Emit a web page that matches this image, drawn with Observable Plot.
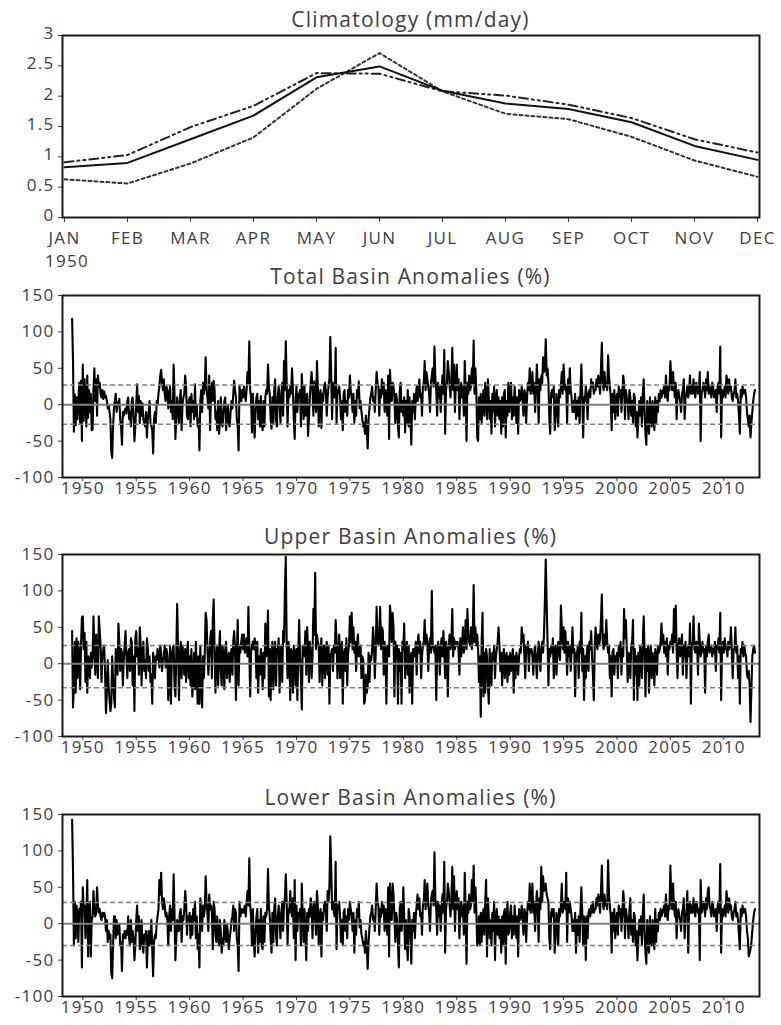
<!DOCTYPE html>
<html>
<head>
<meta charset="utf-8">
<script src="https://cdn.jsdelivr.net/npm/d3@7"></script>
<script src="https://cdn.jsdelivr.net/npm/@observablehq/plot@0.6"></script>
<style>
  html, body { margin: 0; padding: 0; background: #fff; overflow: hidden; }
  #root { position: relative; width: 781px; height: 1025px; font-family: "Open Sans", sans-serif; color: #404040; }
  .panel { position: absolute; left: 0; }
  .title { position: absolute; left: 62px; width: 697px; text-align: center; font-size: 21px; line-height: 21px; letter-spacing: 1.2px; white-space: nowrap; }
  .note { position: absolute; font-size: 17px; line-height: 17px; letter-spacing: 1.3px; }
</style>
</head>
<body>
<div id="root"></div>
<script>
// ---------- Climatology (mm/day) ----------
const months = ["JAN","FEB","MAR","APR","MAY","JUN","JUL","AUG","SEP","OCT","NOV","DEC"];
const climSolid   = [0.83, 0.90, 1.29, 1.68, 2.31, 2.49, 2.09, 1.88, 1.79, 1.57, 1.18, 0.95];
const climDashDot = [0.91, 1.03, 1.49, 1.84, 2.38, 2.37, 2.08, 2.01, 1.86, 1.64, 1.29, 1.07];
const climDotted  = [0.63, 0.56, 0.89, 1.32, 2.12, 2.71, 2.08, 1.71, 1.62, 1.33, 0.94, 0.67];
const climTicks = [0, 0.5, 1, 1.5, 2, 2.5, 3];

// ---------- Anomaly series (%), monthly, Jan 1949 - Dec 2012 ----------
const startYear = 1949;
const yearTicks = [1950, 1955, 1960, 1965, 1970, 1975, 1980, 1985, 1990, 1995, 2000, 2005, 2010];
const anomTicks = [-100, -50, 0, 50, 100, 150];

const totalThresholds = [27, -27];
const upperThresholds = [25, -33];
const lowerThresholds = [29, -30];

const totalAnom = [
118,60,-37,14,-28,10,-20,5,30,-25,33,-50,
55,-22,35,8,-30,40,-18,20,-10,15,-35,-34,
22,50,5,35,-15,40,25,30,15,10,20,8,
18,10,12,5,-5,0,-10,-20,-65,-73,-30,-5,
5,15,-10,3,0,8,-20,-30,-55,-10,-15,-8,
-5,-12,5,10,-20,-10,-30,5,10,-15,-50,-30,
0,28,-10,12,-25,5,-15,2,-20,-25,-30,-10,
-45,-20,-10,5,-25,-30,-35,-67,-20,-10,-25,5,
0,15,25,40,48,30,20,35,15,5,25,20,
-5,10,25,-10,5,-20,55,15,-47,-20,10,-5,
-25,5,20,-35,0,10,15,40,25,-15,-20,5,
10,-30,15,-10,5,-20,28,-15,0,-30,-20,-63,
5,20,-10,30,15,25,65,20,10,-5,40,-35,
15,30,5,33,20,-20,-10,-35,5,-40,-25,10,
-20,-30,-10,5,10,-35,-15,0,-25,-30,-10,5,
-5,15,33,20,10,-20,-30,-63,25,15,5,20,
10,25,15,5,20,45,30,87,20,10,-38,15,
-15,-45,-10,10,15,-20,5,-30,12,-25,-35,5,
-30,10,20,15,55,25,15,-20,-33,10,-25,20,
35,-20,-30,10,25,5,-25,15,30,-15,60,20,
87,30,-30,20,10,25,15,50,20,-20,-47,5,
25,-10,15,10,20,-30,42,10,-20,25,-15,10,
15,-43,-20,10,30,45,20,-15,32,10,-10,60,
25,-30,10,20,-32,15,5,25,30,20,-15,10,
25,35,93,40,-20,30,20,10,78,-25,15,20,
25,10,-20,5,-35,15,20,-10,5,-15,20,10,
40,20,10,-10,15,-25,5,-15,20,10,32,-5,
5,-10,-20,-30,-25,-40,-15,-35,-60,-20,-5,10,
15,25,5,10,-10,20,45,30,25,-15,20,10,
35,15,30,-10,20,5,-15,40,-47,48,20,5,
30,25,10,-25,15,5,-30,-45,20,30,-10,5,
-15,10,-38,5,-25,20,-30,10,-20,-55,5,-10,
15,-20,10,25,5,20,35,10,15,-15,25,30,
60,20,45,35,25,15,-10,30,40,50,25,80,
35,20,-15,30,10,25,-10,20,40,15,75,-40,
20,30,60,45,25,10,35,78,20,55,-10,30,
55,20,35,-20,15,30,10,25,-15,60,20,-50,
30,15,40,20,25,50,30,88,15,50,20,-45,
-50,10,-20,15,-25,5,20,-15,30,10,-20,35,
10,-20,5,-40,15,-10,25,-30,5,20,-15,10,
-20,5,-40,10,-30,15,20,-45,5,-15,30,-10,
15,30,-20,10,-15,25,5,-25,10,-40,20,5,
10,25,5,-15,20,15,-25,10,30,20,50,15,
25,45,15,30,-10,20,55,25,-25,35,20,40,
30,65,45,50,90,40,50,30,-20,-40,15,20,
10,25,-35,-20,15,5,-30,20,10,25,45,15,
55,30,20,25,-25,35,15,50,20,10,-10,5,
-10,15,-20,5,-15,10,-25,20,55,15,-45,10,
5,25,10,-20,15,20,10,35,25,30,15,20,
20,35,25,40,30,15,50,85,30,20,45,25,
30,20,68,40,25,10,-35,15,-10,20,-20,5,
15,-15,25,10,20,-10,15,40,30,-20,20,10,
5,-20,20,10,-15,5,-25,15,10,-30,-10,-45,
-20,5,-15,10,-30,15,35,-10,-40,-55,5,-25,
-40,10,-20,-30,5,-15,-35,10,-25,5,-10,15,
5,20,10,15,20,25,10,40,15,5,25,20,
60,35,20,45,25,10,30,-20,15,20,10,5,
-10,15,20,35,-20,10,15,25,10,20,40,15,
25,15,35,20,10,30,25,15,20,45,-50,15,
20,30,25,10,35,20,45,15,25,20,10,30,
25,10,15,20,-10,25,30,15,80,-45,20,10,
15,25,10,40,30,15,35,20,25,10,5,15,
20,35,10,15,5,-15,-40,20,10,25,15,20,
20,10,-10,-20,-30,-15,-45,-25,-10,5,15,20
];

const upperAnom = [
45,-60,-30,30,-40,35,-20,30,10,-35,25,63,
65,20,42,-25,30,-40,10,5,-20,15,-5,10,
65,20,-15,40,10,-20,65,45,25,-25,10,20,
25,-10,-68,-40,5,-30,-50,-65,-55,10,-20,-45,
-60,20,10,-15,55,30,-10,20,15,-30,5,25,
45,10,-20,15,20,-10,35,30,-30,10,-65,35,
45,10,20,-15,50,25,-30,15,30,-10,5,-20,
35,20,-10,10,-25,-15,-55,15,5,-20,10,5,
20,10,-5,25,15,-10,5,10,25,-5,20,10,
-50,-20,25,-55,10,20,25,-30,-45,15,82,20,
-50,10,30,-20,25,10,-15,20,-25,15,30,-20,
10,-30,20,-45,-20,15,-35,30,-10,-55,10,-55,
25,-30,-60,10,-20,15,70,60,20,-15,10,30,
45,-20,60,88,20,-40,10,25,-30,15,45,-10,
-30,25,10,-35,20,30,-20,5,15,-25,10,20,
-15,30,45,20,-50,10,60,-30,25,15,30,40,
20,40,15,25,35,10,78,20,-45,15,25,30,
20,35,25,-20,30,-40,10,-15,20,5,-35,15,
-20,55,10,25,73,-45,20,-50,15,30,-35,10,
30,-30,20,15,35,-40,10,25,-25,45,30,100,
147,25,-20,30,10,-50,20,15,-40,25,10,-30,
20,-50,15,60,10,-20,-63,25,15,10,45,-15,
50,20,-25,30,15,-20,10,75,40,125,20,40,
30,25,-25,20,35,-30,15,25,-20,10,30,-15,
25,-55,10,15,20,-10,25,15,60,35,-20,10,
40,-20,15,30,-55,10,20,-10,35,-30,15,25,
65,30,70,20,50,15,30,-10,25,40,10,20,
25,-20,10,5,-55,-50,-15,-40,-30,15,-25,10,
5,20,50,30,-20,15,78,40,25,35,78,20,
50,45,-15,30,15,-55,25,20,10,80,65,30,
70,50,-45,30,10,25,-55,20,-10,15,-55,30,
20,55,-20,10,30,-15,25,-40,10,15,-55,20,
20,10,30,-15,25,40,15,30,-20,10,25,30,
60,25,40,30,-10,20,35,15,100,25,20,15,
25,-50,10,30,20,-15,25,35,10,45,20,-20,
30,15,-45,25,40,20,30,75,10,35,20,30,
25,30,20,-15,35,10,25,50,15,30,60,20,
75,40,30,25,50,20,35,108,30,50,25,40,
20,-25,10,-73,30,70,-45,15,-40,20,10,-30,
-55,20,-10,-30,15,5,25,-20,10,20,30,50,
25,-10,15,-30,10,20,-20,5,15,-25,10,-15,
15,-10,5,20,-40,10,-20,15,5,-15,10,20,
15,50,30,40,10,-20,25,15,30,-10,20,15,
20,10,-15,15,25,5,-20,10,30,15,-10,20,
30,15,40,85,143,85,30,-30,20,10,25,15,
35,-20,15,25,-15,10,30,20,5,80,50,20,
50,15,45,20,-15,30,10,25,-10,20,50,15,
20,-45,15,10,25,-20,30,15,70,-10,20,-50,
10,-20,15,25,-10,30,20,45,10,-15,-50,25,
50,30,20,40,25,35,60,95,30,20,40,25,
60,30,15,25,-20,10,-45,15,20,-15,10,5,
15,-20,25,10,30,-15,20,10,75,35,60,20,
-25,15,10,-20,25,30,60,-50,20,-15,10,-50,
15,-30,25,10,-20,30,65,15,-45,20,-10,25,
-40,10,25,-20,15,5,-30,20,10,-15,25,15,
20,30,55,25,40,15,30,10,35,-15,25,20,
30,25,40,15,75,30,80,20,-20,25,35,10,
20,40,-15,25,10,30,-20,15,25,10,55,-55,
25,30,65,20,15,30,25,-15,55,30,10,20,
30,15,20,-40,25,10,30,40,15,20,25,10,
20,15,30,-10,25,20,35,15,70,-50,20,30,
15,35,20,25,10,30,20,25,50,15,-20,20,
20,50,15,25,-20,10,-55,20,15,30,10,25,
15,10,-15,-20,-10,-30,-80,-35,10,20,25,15
];

const lowerAnom = [
143,73,-30,30,-20,25,10,-25,20,15,30,-60,
50,20,25,-20,10,60,-45,15,30,-45,5,10,
45,20,10,15,50,25,15,20,10,5,15,10,
15,10,-10,5,-25,-10,-20,-15,-68,-75,-30,10,
10,-20,5,-15,-10,0,-30,-25,-65,-15,-20,-10,
-20,-10,-15,10,-20,-30,5,-25,-10,-20,-50,-30,
5,25,-10,10,-35,-20,5,-30,-40,-15,-20,-10,
-60,-25,-10,-30,-20,5,-35,-72,-25,-15,-20,0,
10,20,60,40,70,30,20,35,25,10,15,5,
-30,10,25,-10,20,5,68,15,-50,-20,5,-10,
-10,15,20,-25,10,5,20,45,30,-15,10,5,
15,-20,10,-15,20,5,30,-20,10,-35,-15,-60,
35,15,-10,25,10,20,65,30,15,-10,40,20,
25,15,-35,30,20,-15,-25,10,-20,-30,5,-10,
-40,-20,-30,5,-10,-25,0,-15,-35,-20,-10,5,
10,25,-10,20,15,-20,-30,-65,30,10,20,15,
20,15,25,10,30,45,25,90,25,10,-30,20,
-20,-45,-15,10,20,-40,5,-25,20,-30,-35,10,
-25,15,10,20,75,25,10,-20,-40,15,-25,20,
35,-15,-30,10,25,5,-20,15,30,-10,25,35,
68,30,-30,20,15,45,20,10,35,-20,60,-50,
25,-10,15,10,20,-30,55,10,-25,20,-15,-50,
15,-10,20,10,35,25,-20,15,30,10,-15,45,
25,-30,10,20,-45,15,5,25,30,20,-10,45,
30,50,120,78,20,30,15,10,85,-35,20,25,
30,10,-25,5,-30,15,20,-10,10,-20,20,5,
30,20,10,-10,15,-40,5,-15,20,10,30,-5,
5,-15,-20,-30,-25,-40,-10,-35,-62,-25,-5,10,
15,25,5,10,-10,20,55,30,25,-15,20,10,
30,15,25,-10,20,5,-15,50,-45,55,20,5,
55,40,10,-25,15,5,-30,-60,20,30,-10,5,
50,10,-35,5,-25,-50,20,10,-20,-55,5,-10,
15,-20,10,25,40,20,35,10,15,-15,25,30,
60,20,40,55,25,15,-10,30,40,45,25,98,
35,20,-15,30,10,25,-10,20,40,15,85,-40,
20,30,55,45,25,10,35,78,20,65,-10,30,
45,20,35,-20,15,30,10,25,-15,70,20,-55,
30,15,40,20,25,60,30,80,15,50,20,-30,
-20,10,-30,15,-25,5,20,-15,30,60,-45,35,
10,-20,5,-30,15,-10,30,-50,5,20,-15,10,
-20,5,-40,10,-30,15,20,-55,5,30,-15,-10,
15,25,-20,10,-15,25,5,-20,10,-45,20,5,
10,25,5,-15,20,15,-25,10,30,20,55,15,
25,55,15,30,-10,20,45,25,-25,35,20,78,
30,65,45,50,55,40,35,30,-20,-35,15,20,
10,20,-40,-20,15,5,-30,20,10,25,55,15,
25,30,20,70,-25,35,15,30,20,10,-10,5,
-10,15,-40,5,-15,10,-25,20,50,15,-30,10,
5,-50,10,-20,15,20,10,25,15,30,15,20,
20,35,25,40,30,15,45,80,30,20,40,25,
30,20,87,40,25,10,-40,15,-10,20,-20,5,
15,-15,25,10,20,-10,15,45,30,-20,20,10,
5,-20,20,35,-15,5,-25,15,10,-30,-10,-50,
-20,5,-15,10,-30,15,40,-10,-40,-55,5,-25,
-40,10,-20,-30,5,-15,-35,20,-25,5,-10,15,
5,20,10,15,20,25,10,40,15,5,25,20,
80,35,20,55,25,10,30,-20,15,20,10,5,
-10,15,20,35,-20,10,15,45,-40,20,30,15,
25,15,35,20,10,30,25,15,20,-50,60,15,
20,30,25,10,35,20,45,50,25,20,10,30,
25,10,15,20,-10,25,30,15,82,-40,20,10,
15,25,10,45,30,15,35,20,25,10,5,15,
20,30,10,15,5,-15,-35,20,10,25,15,20,
20,10,-10,-20,-45,-40,-35,-25,-10,5,15,20
];

const root = document.getElementById("root");
const axisStyle = { fontFamily: "Open Sans, sans-serif", fontSize: "17px", color: "#404040", letterSpacing: "1.3px", background: "transparent", overflow: "visible" };

function place(node, top) {
  node.classList.add("panel");
  node.style.top = top + "px";
  root.appendChild(node);
}
function addTitle(text, top) {
  const d = document.createElement("div");
  d.className = "title";
  d.style.top = top + "px";
  d.textContent = text;
  root.appendChild(d);
}

// Climatology panel
const climData = [];
months.forEach((m, i) => {
  climData.push({ m, v: climSolid[i], s: "solid" });
  climData.push({ m, v: climDashDot[i], s: "dashdot" });
  climData.push({ m, v: climDotted[i], s: "dotted" });
});
const clim = Plot.plot({
  width: 781, height: 252,
  marginTop: 30, marginBottom: 40, marginLeft: 62, marginRight: 22,
  style: axisStyle,
  x: { type: "point", domain: months, padding: 0 },
  y: { domain: [0, 3] },
  marks: [
    Plot.axisX({ label: null, tickSize: 5, tickPadding: 9 }),
    Plot.axisY({ ticks: climTicks, tickFormat: () => "", label: null, tickSize: 4, tickPadding: 0 }),
    Plot.axisY({ ticks: climTicks, tickFormat: d => String(d), label: null, tickSize: 0, tickPadding: 8, dy: -2 }),
    Plot.line(climData.filter(d => d.s === "dotted"), { x: "m", y: "v", stroke: "#333", strokeWidth: 2, strokeDasharray: "3,3" }),
    Plot.line(climData.filter(d => d.s === "dashdot"), { x: "m", y: "v", stroke: "#222", strokeWidth: 2, strokeDasharray: "9,4,2,4,2,4" }),
    Plot.line(climData.filter(d => d.s === "solid"), { x: "m", y: "v", stroke: "#111", strokeWidth: 2 }),
    Plot.frame({ stroke: "#1a1a1a", strokeWidth: 2 })
  ]
});
place(clim, 5);
addTitle("Climatology (mm/day)", 9);

const yr = document.createElement("div");
yr.className = "note";
yr.style.left = "45px";
yr.style.top = "252px";
yr.textContent = "1950";
root.appendChild(yr);

function tsPanel(values, thresholds) {
  const data = values.map((v, i) => ({ t: startYear + i / 12, v }));
  return Plot.plot({
    width: 781, height: 252,
    marginTop: 30, marginBottom: 40, marginLeft: 62, marginRight: 22,
    style: axisStyle,
    x: { domain: [1948.1, 2013.34], ticks: yearTicks, tickFormat: d => String(d), label: null, tickSize: 4, tickPadding: 0 },
    y: { domain: [-100, 150], ticks: anomTicks, tickFormat: d => String(d), label: null, tickSize: 4, tickPadding: 4 },
    marks: [
      Plot.line(data, { x: "t", y: "v", stroke: "#000", strokeWidth: 2.1 }),
      Plot.ruleY([0], { stroke: "#808080", strokeWidth: 2 }),
      Plot.ruleY(thresholds, { stroke: "#808080", strokeWidth: 1.5, strokeDasharray: "5,3" }),
      Plot.frame({ stroke: "#1a1a1a", strokeWidth: 2 })
    ]
  });
}

place(tsPanel(totalAnom, totalThresholds), 265);
addTitle("Total Basin Anomalies (%)", 266);
place(tsPanel(upperAnom, upperThresholds), 524);
addTitle("Upper Basin Anomalies (%)", 526);
place(tsPanel(lowerAnom, lowerThresholds), 784);
addTitle("Lower Basin Anomalies (%)", 787);
</script>
</body>
</html>
